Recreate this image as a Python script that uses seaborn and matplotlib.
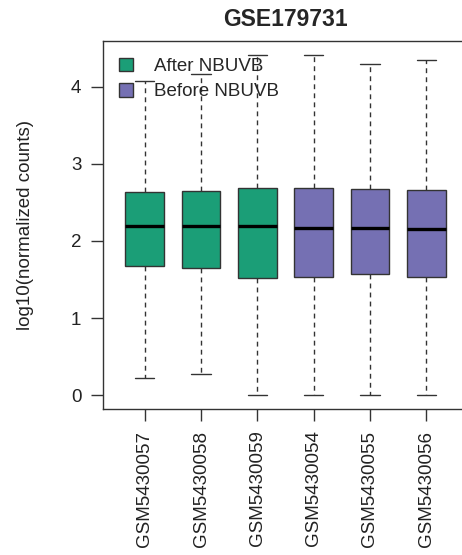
import numpy as np
import pandas as pd
import matplotlib
matplotlib.use("Agg")
import matplotlib.pyplot as plt
import seaborn as sns

# --- Data (log10 normalized counts) ---
SAMPLES = ["GSM5430057", "GSM5430058", "GSM5430059",
           "GSM5430054", "GSM5430055", "GSM5430056"]
GROUPS = ["After NBUVB", "After NBUVB", "After NBUVB",
          "Before NBUVB", "Before NBUVB", "Before NBUVB"]
WHISKER_LOW = [0.23, 0.28, 0.00, 0.00, 0.00, 0.00]
Q1 = [1.67, 1.65, 1.52, 1.54, 1.57, 1.54]
MEDIAN = [2.19, 2.20, 2.19, 2.17, 2.17, 2.16]
Q3 = [2.63, 2.65, 2.68, 2.69, 2.67, 2.66]
WHISKER_HIGH = [4.07, 4.16, 4.41, 4.41, 4.29, 4.35]

PALETTE = {"After NBUVB": "#1B9E77", "Before NBUVB": "#7570B3"}
EDGE = "#333333"

# five-number summaries in long form; with whis=(0, 100) seaborn reproduces them exactly
rows = []
for name, grp, lo, a, m, b, hi in zip(SAMPLES, GROUPS, WHISKER_LOW, Q1, MEDIAN, Q3, WHISKER_HIGH):
    for v in (lo, a, m, b, hi):
        rows.append({"sample": name, "group": grp, "value": v})
df = pd.DataFrame(rows)

sns.set_theme(style="ticks")
plt.rcParams["font.family"] = ["Liberation Sans", "DejaVu Sans"]

fig = plt.figure(figsize=(4.62, 5.55), dpi=100)
ax = fig.add_axes([103 / 462, 1 - 409 / 555, 365 / 462, 368 / 555])

sns.boxplot(data=df, x="sample", y="value", hue="group", order=SAMPLES,
            palette=PALETTE, saturation=1, width=0.69, whis=(0, 100),
            linecolor=EDGE, linewidth=1.0, ax=ax,
            whiskerprops={"linestyle": (0, (3.5, 3))},
            medianprops={"color": "black", "linewidth": 2.4})

ax.set_xlim(-0.74, 5.74)
ax.set_ylim(-0.176, 4.59)
ax.set_yticks([0, 1, 2, 3, 4])
ax.set_xlabel("")
ax.set_ylabel("log10(normalized counts)", fontsize=13.5, color="#222222")
ax.yaxis.set_label_coords(-0.19, 0.5)
ax.tick_params(axis="both", length=8.5, width=1, color=EDGE, pad=7,
               labelsize=13.5, labelcolor="#222222")
ax.tick_params(axis="x", labelrotation=90)
for s in ax.spines.values():
    s.set_visible(True)
    s.set_color(EDGE)
    s.set_linewidth(1)

ax.set_title("GSE179731", fontsize=16.5, fontweight="bold", pad=11)

sns.move_legend(ax, "upper left", bbox_to_anchor=(0.045, 0.955), frameon=False,
                title=None, fontsize=13.5, handlelength=0.75, handleheight=0.75,
                handletextpad=1.1, labelspacing=0.42, borderaxespad=0, borderpad=0)

fig.savefig("out.png", dpi=100)
